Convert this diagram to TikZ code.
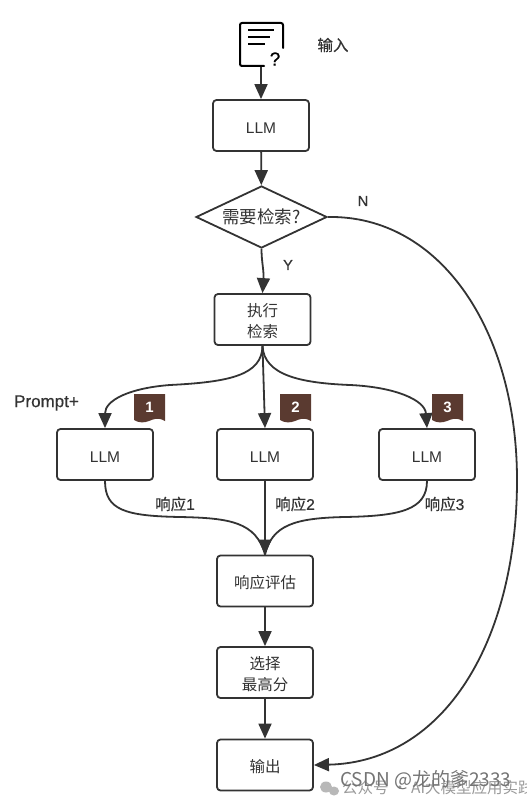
\documentclass[tikz,border=0pt]{standalone}
\usepackage{fontspec}
\setmainfont{Liberation Sans}
\newfontfamily\cjk{Noto Sans CJK SC}
\newfontfamily\cjkm[FakeBold=0.5]{Noto Sans CJK SC}
\newfontfamily\latm[FakeBold=0.5]{Liberation Sans}
\usetikzlibrary{arrows.meta,shapes.geometric}
\definecolor{ink}{HTML}{333333}
\definecolor{badge}{HTML}{5A3A30}
\definecolor{wm}{HTML}{9A9A9A}
\newcommand{\lowr}{\rule{0pt}{16.5pt}}
\tikzset{
  flowbox/.style={draw=ink,line width=1.8pt,rounded corners=3.5pt,minimum width=96pt,minimum height=51pt,inner sep=0pt,align=center,font=\fontsize{15.5}{21}\selectfont\cjk,text=ink},
  choice/.style={draw=ink,line width=1.8pt,diamond,aspect=2.1,minimum width=131pt,minimum height=62pt,inner sep=0pt,font=\fontsize{17.5}{18}\selectfont\cjk,text=ink},
  conn/.style={draw=ink,line width=1.8pt,-{Triangle[length=15pt,width=13pt]}},
  wire/.style={draw=ink,line width=1.8pt},
  lab/.style={font=\fontsize{15.5}{16}\selectfont\cjkm,text=ink,inner sep=0pt},
  numlab/.style={font=\bfseries\fontsize{15}{16}\selectfont,text=white,inner sep=0pt},
  wmark/.style={text=wm,inner sep=0pt,anchor=west},
  llmtext/.style={font=\fontsize{15.5}{16}\selectfont\rmfamily,text height=15pt}
}
\begin{document}
\begin{tikzpicture}[x=1pt,y=-1pt]
\useasboundingbox (0,0) rectangle (527,800);
\fill[white] (0,0) rectangle (527,800);
% icon
\draw[black,line width=2pt,rounded corners=2pt,line cap=round] (283,48) -- (283,23) -- (240,23) -- (240,66) -- (264,66);
\draw[black,line width=1.6pt] (248,30) -- (274,30) (248,37) -- (270,37) (248,44) -- (265,44);
\node[font=\fontsize{19}{19}\selectfont\latm,inner sep=0pt] (q) at (275,59) {?};
\coordinate (ic) at (261,67);
\node[lab,font=\fontsize{15.5}{16}\selectfont\cjkm] (inp) at (333,45) {输入};
% nodes
\node[flowbox,llmtext] (l0) at (261,125.5) {LLM};
\node[choice] (d) at (261.5,217) {需要检索?};
\node[flowbox] (ex) at (262.5,319.5) {\lowr 执行\\检索};
\node[flowbox,llmtext] (a) at (105,454.5) {LLM};
\node[flowbox,llmtext] (b) at (265,454.5) {LLM};
\node[flowbox,llmtext] (c) at (427,454.5) {LLM};
\node[flowbox] (ev) at (265,581) {\lowr 响应评估};
\node[flowbox] (sel) at (265,672.5) {\lowr 选择\\最高分};
\node[flowbox] (out) at (265,765) {\lowr 输出};
% connectors
\draw[conn] (ic) -- (ic |- l0.north);
\draw[conn] (l0) -- (d);
\draw[conn] (d.south) .. controls (261.5,262) and (264,270) .. (ex.north);
\draw[conn] (ex.south) .. controls (262,375) and (230,382) .. (170,385) .. controls (130,388) and (105,400) .. (a.north);
\draw[conn] (ex.south) -- (b.north);
\draw[conn] (ex.south) .. controls (264,375) and (300,383) .. (350,385) .. controls (395,387) and (425,400) .. (c.north);
\draw[wire] (a.south) .. controls (105,510) and (125,516) .. (180,517) .. controls (230,518) and (256,522) .. (ev.north);
\draw[wire] (c.south) .. controls (427,510) and (400,516) .. (345,517) .. controls (295,518) and (272,525) .. (ev.north);
\draw[conn] (b.south) -- (ev.north);
\draw[conn] (ev) -- (sel);
\draw[conn] (sel) -- (out);
\draw[conn] (d.east) .. controls (440,215) and (517,330) .. (517,480) .. controls (517,640) and (445,762) .. (out.east);
% labels
\node[lab,font=\fontsize{14.5}{16}\selectfont\latm] (n) at (363,201) {N};
\node[lab,font=\fontsize{14.5}{16}\selectfont\latm] (y) at (288,265) {Y};
\node[lab,font=\fontsize{17}{18}\selectfont\latm] (p) at (46.5,403) {Prompt+};
\node[lab] (r1) at (175,504) {响应{\latm 1}};
\node[lab] (r2) at (295,504) {响应{\latm 2}};
\node[lab] (r3) at (444.5,504) {响应{\latm 3}};
% badges
\foreach \bx/\num in {134/1,280/2,432/3}{
  \fill[badge] (\bx,394) -- (\bx+31,394) -- (\bx+31,421) .. controls (\bx+24,417) and (\bx+20,419) .. (\bx+15,421) .. controls (\bx+10,423) and (\bx+5,423) .. (\bx,420) -- cycle;
  \node[numlab] (bd\num) at (\bx+15.5,407.5) {\num};
}
% watermark
\fill[wm!70] (326,787) ellipse (6pt and 5.5pt);
\fill[wm!70] (334,791) ellipse (5pt and 4.5pt);
\node[wmark,font=\fontsize{15.5}{16}\selectfont\cjk] (w2) at (342,788) {公众号 · AI大模型应用实践};
\node[wmark,text=wm!75!black,font=\fontsize{19}{20}\selectfont\cjk] (w1) at (340,780) {CSDN @龙的爹2333};
\end{tikzpicture}
\end{document}
